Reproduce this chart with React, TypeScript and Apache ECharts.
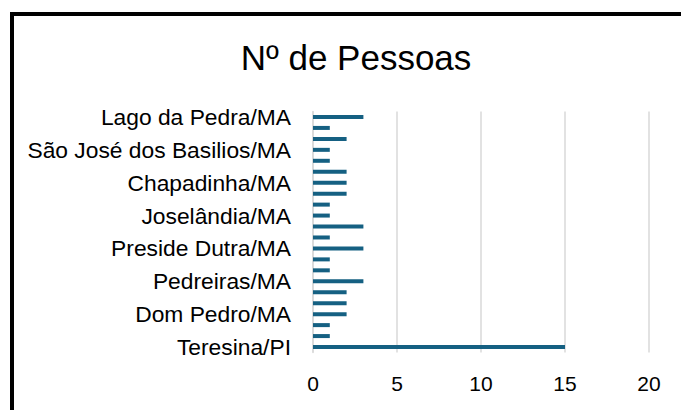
import React, { useEffect, useRef } from "react";
import * as echarts from "echarts";

const categories = [
  "Teresina/PI",
  "Timon/MA",
  "Caxias/MA",
  "Dom Pedro/MA",
  "Codó/MA",
  "Bacabal/MA",
  "Pedreiras/MA",
  "Coroatá/MA",
  "Santa Inês/MA",
  "Preside Dutra/MA",
  "Barra do Corda/MA",
  "Grajaú/MA",
  "Joselândia/MA",
  "Imperatriz/MA",
  "São Luís/MA",
  "Chapadinha/MA",
  "Balsas/MA",
  "Itapecuru-Mirim/MA",
  "São José dos Basilios/MA",
  "Parnaíba/PI",
  "Picos/PI",
  "Lago da Pedra/MA",
];

const pessoas = [15, 1, 1, 2, 2, 2, 3, 1, 1, 3, 1, 3, 1, 1, 2, 2, 2, 1, 1, 2, 1, 3];

const xTicks = [0, 5, 10, 15, 20];

const FONT = "'Liberation Sans', Arial, sans-serif";

export default function App() {
  const ref = useRef<HTMLDivElement>(null);
  useEffect(() => {
    if (!ref.current) return;
    const chart = echarts.init(ref.current, null, { renderer: "svg" });
    chart.setOption({
      animation: false,
      backgroundColor: "#ffffff",
      title: {
        text: "Nº de Pessoas",
        left: 351,
        top: 35,
        textAlign: "center",
        textStyle: { fontFamily: FONT, fontSize: 35, fontWeight: "normal", color: "#000000" },
      },
      graphic: [
        { type: "rect", shape: { x: 10, y: 12, width: 4, height: 398 }, style: { fill: "#000000" } },
        { type: "rect", shape: { x: 10, y: 12, width: 671, height: 4 }, style: { fill: "#000000" } },
      ],
      grid: { left: 313, right: 32, top: 111.5, bottom: 57.5, containLabel: false },
      xAxis: {
        type: "value",
        min: xTicks[0],
        max: xTicks[xTicks.length - 1],
        interval: 5,
        axisLine: { show: false },
        axisTick: { show: false },
        splitLine: { show: true, lineStyle: { color: "#d9d9d9", width: 1.5 } },
        axisLabel: { color: "#000000", fontFamily: FONT, fontSize: 21, margin: 20 },
      },
      yAxis: {
        type: "category",
        data: categories,
        axisLine: { show: true, lineStyle: { color: "#d9d9d9", width: 1.5 } },
        axisTick: { show: false },
        axisLabel: { interval: 2, color: "#000000", fontFamily: FONT, fontSize: 22.8, margin: 22 },
      },
      series: [
        {
          type: "bar",
          data: pessoas,
          barWidth: 4,
          itemStyle: { color: "#156082" },
        },
      ],
    });
    return () => chart.dispose();
  }, []);
  return (
    <div
      ref={ref}
      style={{ position: "absolute", left: 0, top: 0, width: 681, height: 410 }}
    />
  );
}
